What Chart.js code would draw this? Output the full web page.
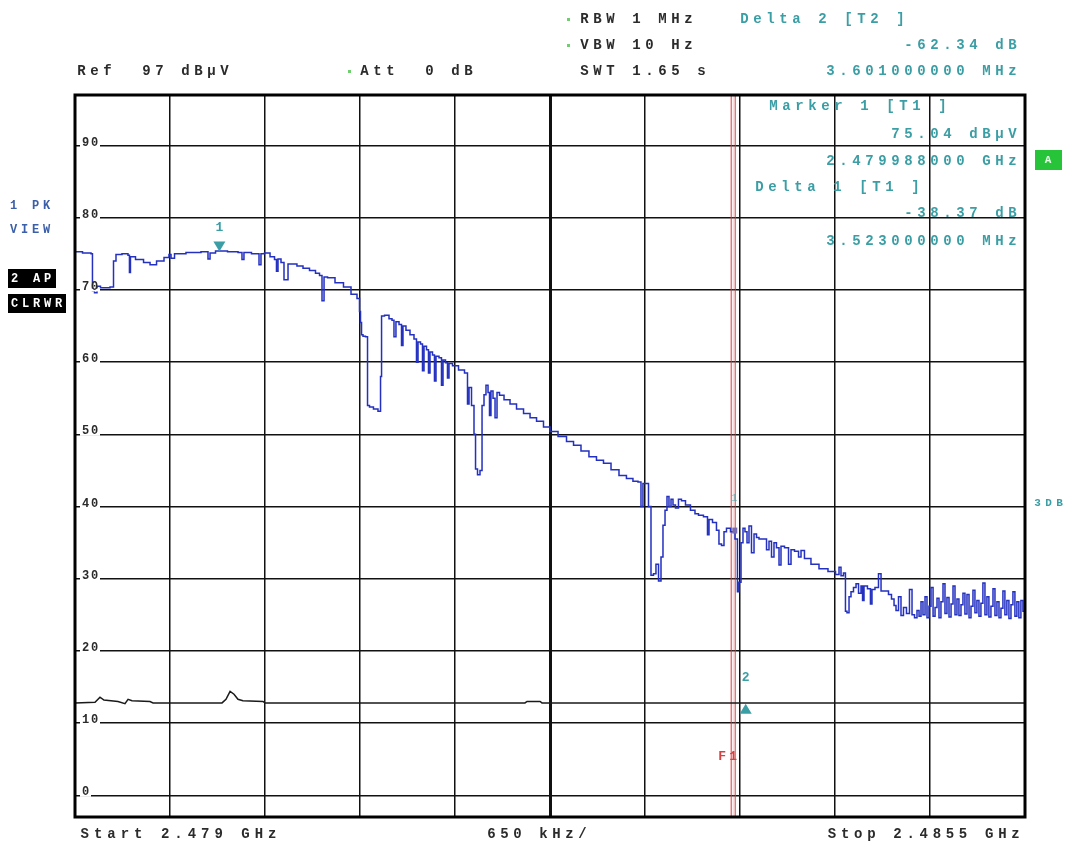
<!DOCTYPE html>
<html lang="en">
<head>
<meta charset="utf-8">
<title>Spectrum plot</title>
<style>
  body { margin: 0; background: #fff; }
  #chartContainer { width: 1068px; height: 847px; }
</style>
</head>
<body>
<div id="chartContainer"><canvas id="myChart" width="1068" height="847"></canvas></div>
<script src="https://cdn.jsdelivr.net/npm/chart.js@4.4.0/dist/chart.umd.min.js"></script>
<script>
// sweep settings
var startMHz = 2479.0, stopMHz = 2485.5, divMHz = 0.65;
var refLevel = 97, bottomLevel = -3;
var yLabels = [0, 10, 20, 30, 40, 50, 60, 70, 80, 90];

// trace 1 (PK, view) - offsets from start in MHz, levels in dBuV
var pkOffsets = [
  0.000, 0.103, 0.116, 0.123, 0.144, 0.157, 0.192, 0.226, 0.253, 0.274,
  0.287, 0.356, 0.369, 0.376, 0.383, 0.445, 0.493, 0.534, 0.582, 0.636,
  0.650, 0.664, 0.698, 0.821, 0.903, 0.917, 0.931, 0.992, 1.095, 1.136,
  1.149, 1.163, 1.252, 1.266, 1.279, 1.314, 1.355, 1.375, 1.382, 1.396,
  1.423, 1.437, 1.451, 1.464, 1.498, 1.539, 1.581, 1.628, 1.663, 1.683,
  1.697, 1.711, 1.745, 1.813, 1.861, 1.916, 1.943, 1.950, 1.957, 1.964,
  1.977, 1.998, 2.005, 2.025, 2.059, 2.087, 2.094, 2.101, 2.135, 2.162,
  2.176, 2.189, 2.203, 2.231, 2.237, 2.251, 2.278, 2.306, 2.333, 2.340,
  2.354, 2.374, 2.381, 2.395, 2.415, 2.422, 2.436, 2.456, 2.463, 2.477,
  2.504, 2.511, 2.525, 2.545, 2.552, 2.566, 2.600, 2.648, 2.682, 2.689,
  2.703, 2.723, 2.737, 2.744, 2.764, 2.778, 2.792, 2.805, 2.819, 2.833,
  2.839, 2.853, 2.867, 2.881, 2.894, 2.915, 2.956, 2.997, 3.045, 3.093,
  3.134, 3.182, 3.229, 3.271, 3.339, 3.387, 3.435, 3.489, 3.544, 3.592,
  3.640, 3.695, 3.749, 3.797, 3.838, 3.866, 3.879, 3.893, 3.914, 3.934,
  3.948, 3.968, 3.982, 4.003, 4.016, 4.030, 4.044, 4.057, 4.071, 4.085,
  4.098, 4.119, 4.139, 4.160, 4.194, 4.228, 4.256, 4.276, 4.324, 4.331,
  4.345, 4.379, 4.399, 4.413, 4.434, 4.447, 4.468, 4.502, 4.529, 4.536,
  4.550, 4.564, 4.577, 4.591, 4.605, 4.618, 4.639, 4.653, 4.673, 4.687,
  4.721, 4.742, 4.755, 4.776, 4.789, 4.810, 4.824, 4.837, 4.872, 4.892,
  4.906, 4.940, 4.961, 4.974, 5.008, 5.063, 5.118, 5.186, 5.221, 5.234,
  5.248, 5.268, 5.275, 5.289, 5.303, 5.316, 5.337, 5.351, 5.371, 5.385,
  5.392, 5.405, 5.439, 5.446, 5.460, 5.487, 5.508, 5.522, 5.556, 5.576,
  5.597, 5.611, 5.624, 5.645, 5.658, 5.679, 5.699, 5.720, 5.734, 5.754,
  5.768, 5.782, 5.795, 5.809, 5.823, 5.836, 5.850, 5.864, 5.878, 5.891,
  5.905, 5.918, 5.932, 5.946, 5.959, 5.973, 5.987, 6.001, 6.014, 6.028,
  6.041, 6.055, 6.069, 6.082, 6.096, 6.110, 6.124, 6.137, 6.151, 6.164,
  6.178, 6.192, 6.205, 6.219, 6.233, 6.246, 6.260, 6.274, 6.288, 6.301,
  6.315, 6.329, 6.342, 6.356, 6.369, 6.383, 6.397, 6.411, 6.424, 6.438,
  6.451, 6.465, 6.479, 6.493
];
var pkLevels = [
  75.3, 75.1, 75.0, 69.9, 69.6, 70.5, 70.3, 70.3, 70.4, 74.0,
  74.9, 75.0, 74.8, 72.4, 74.6, 74.2, 73.8, 73.5, 74.0, 74.5,
  74.9, 74.4, 75.0, 75.2, 75.3, 74.3, 75.1, 75.4, 75.3, 75.2,
  74.2, 75.2, 75.0, 73.5, 75.0, 75.1, 74.6, 74.2, 72.6, 74.3,
  73.8, 71.4, 71.4, 73.6, 73.6, 73.3, 73.0, 72.7, 72.3, 72.0,
  68.5, 71.8, 71.7, 71.0, 70.4, 69.4, 68.8, 67.0, 65.5, 63.8,
  63.6, 63.5, 54.0, 53.8, 53.5, 53.2, 58.0, 66.4, 66.5, 66.0,
  65.8, 63.5, 65.6, 65.2, 62.3, 65.0, 64.4, 63.8, 63.2, 60.0,
  62.8, 62.5, 58.8, 62.2, 61.7, 58.5, 61.4, 61.0, 57.4, 60.8,
  60.6, 56.8, 60.3, 59.9, 57.8, 59.8, 59.5, 58.9, 58.5, 54.2,
  56.5, 54.0, 50.0, 45.2, 44.4, 45.0, 54.0, 55.5, 56.8, 55.8,
  52.6, 56.0, 55.0, 52.3, 55.8, 55.4, 54.8, 54.2, 53.5, 52.9,
  52.3, 51.8, 51.0, 50.4, 49.7, 49.0, 48.5, 47.7, 46.9, 46.4,
  46.0, 45.1, 44.3, 43.9, 43.5, 43.4, 40.0, 43.2, 43.2, 40.0,
  30.5, 30.7, 32.0, 29.7, 33.0, 37.4, 39.5, 41.4, 40.0, 41.0,
  40.2, 39.8, 41.0, 40.8, 40.2, 39.5, 39.0, 38.8, 38.6, 36.1,
  38.2, 37.8, 36.7, 34.8, 34.6, 36.5, 37.0, 36.5, 35.5, 28.2,
  29.5, 35.0, 37.0, 36.5, 35.0, 37.3, 33.6, 36.2, 35.7, 35.5,
  35.5, 34.0, 35.2, 33.0, 35.0, 34.3, 31.9, 34.5, 34.3, 32.0,
  34.0, 33.8, 33.0, 33.9, 32.8, 32.0, 31.4, 31.0, 30.6, 31.6,
  30.4, 30.8, 25.5, 25.3, 27.5, 28.2, 28.8, 29.3, 28.0, 29.0,
  27.0, 29.0, 28.6, 26.5, 28.5, 28.8, 30.7, 28.3, 28.3, 27.8,
  27.2, 26.3, 25.6, 27.5, 24.9, 26.0, 25.2, 28.5, 25.0, 24.6,
  25.6, 24.8, 26.8, 25.0, 27.5, 24.6, 26.2, 28.8, 24.8, 26.0,
  27.3, 24.6, 26.8, 29.3, 25.2, 27.4, 24.7, 26.5, 29.0, 25.0,
  27.2, 24.9, 26.4, 28.0, 25.1, 27.8, 24.6, 26.2, 28.4, 25.3,
  27.0, 24.8, 26.6, 29.4, 25.0, 27.5, 24.7, 26.2, 28.6, 24.9,
  26.8, 24.6, 25.9, 28.3, 25.0, 27.0, 24.5, 26.4, 28.2, 24.8,
  26.8, 24.6, 27.0, 25.5
];

// trace 2 (AP, clear write)
var apOffsets = [0.000, 0.137, 0.171, 0.198, 0.294, 0.342, 0.363, 0.390, 0.513, 0.534,
  1.006, 1.033, 1.061, 1.088, 1.115, 1.149, 1.286, 1.300, 3.079, 3.093, 3.182, 3.195, 6.500];
var apLevels = [12.8, 12.9, 13.6, 13.2, 13.0, 12.7, 13.3, 13.1, 13.0, 12.8,
  12.8, 13.3, 14.4, 14.0, 13.3, 13.1, 13.0, 12.8, 12.8, 13.0, 13.0, 12.8, 12.8];

// markers
var markerFreq = [2479.988, 2483.589];
var markerLevel = [75.04, 12.70];
var deltaOneFreq = 2483.511, deltaOneLevel = 36.67;
var f1Freq = 2483.5;

var xGrid = [];
for (var k = 0; k <= 10; k++) xGrid.push(startMHz + k * divMHz);

var teal = '#3a9ea4';
var dark = '#2b2b2b';
var fnt = '"Liberation Mono", "Courier New", monospace';

function mono(c, text, x, y, pitch, align) {
    if (align === 'right') x -= text.length * pitch;
    c.textAlign = 'center';
    for (var i = 0; i < text.length; i++) {
        c.fillText(text[i], x + i * pitch + pitch / 2, y);
    }
}

var analyzerPlugin = {
    id: 'analyzer',
    beforeDatasetsDraw: function (chart) {
        var c = chart.ctx, a = chart.chartArea, xs = chart.scales.x;
        // F1 line
        var fx = xs.getPixelForValue(f1Freq);
        c.save();
        c.strokeStyle = '#d83a3a';
        c.lineWidth = 1;
        c.beginPath();
        c.moveTo(fx - 1.5, a.top); c.lineTo(fx - 1.5, a.bottom);
        c.moveTo(fx + 2.5, a.top); c.lineTo(fx + 2.5, a.bottom);
        c.stroke();
        c.strokeStyle = 'rgba(230,120,120,0.35)';
        c.beginPath(); c.moveTo(fx + 0.5, a.top); c.lineTo(fx + 0.5, a.bottom); c.stroke();
        c.restore();
    },
    afterDraw: function (chart) {
        var c = chart.ctx, a = chart.chartArea, xs = chart.scales.x, ys = chart.scales.y;
        c.save();
        // frame
        c.strokeStyle = '#000';
        c.lineWidth = 3;
        c.strokeRect(a.left, a.top, a.right - a.left, a.bottom - a.top);

        // level labels on the grid lines
        c.font = 'bold 12px ' + fnt;
        c.textBaseline = 'bottom';
        yLabels.forEach(function (v) {
            var py = ys.getPixelForValue(v);
            c.fillStyle = '#fff';
            c.fillRect(a.left + 5, py - 1.5, v === 0 ? 11 : 20, 3);
            c.fillStyle = dark;
            mono(c, String(v), a.left + 6, py + 3, 9);
        });

        // header
        c.textBaseline = 'middle';
        c.font = 'bold 14px ' + fnt;
        c.fillStyle = dark;
        mono(c, 'Ref  97 dB\u00b5V', 75, 71, 13);
        mono(c, 'Att  0 dB', 358, 71, 13);
        mono(c, 'RBW 1 MHz', 578, 19, 13);
        mono(c, 'VBW 10 Hz', 578, 45, 13);
        mono(c, 'SWT 1.65 s', 578, 71, 13);
        c.fillStyle = '#6fcf6f';
        [[568, 19], [568, 45], [349, 71]].forEach(function (p) {
            c.fillRect(p[0] - 1, p[1] - 1, 3, 3);
        });
        c.fillStyle = teal;
        mono(c, 'Delta 2 [T2 ]', 738, 19, 13);
        mono(c, '-62.34 dB', 1019, 45, 13, 'right');
        mono(c, '3.601000000 MHz', 1019, 71, 13, 'right');
        mono(c, 'Marker 1 [T1 ]', 767, 106, 13);
        mono(c, '75.04 dB\u00b5V', 1019, 134, 13, 'right');
        mono(c, '2.479988000 GHz', 1019, 161, 13, 'right');
        mono(c, 'Delta 1 [T1 ]', 753, 187, 13);
        mono(c, '-38.37 dB', 1019, 213, 13, 'right');
        mono(c, '3.523000000 MHz', 1019, 241, 13, 'right');

        // left side trace info
        c.font = 'bold 12px ' + fnt;
        c.fillStyle = '#3b5fa8';
        mono(c, '1 PK', 8, 206, 11);
        mono(c, 'VIEW', 8, 230, 11);
        c.fillStyle = '#000';
        c.fillRect(8, 269, 48, 19);
        c.fillRect(8, 294, 58, 19);
        c.fillStyle = '#fff';
        mono(c, '2 AP', 9, 279, 11);
        mono(c, 'CLRWR', 9, 304, 11);

        // right side
        c.fillStyle = '#27c43a';
        c.fillRect(1035, 150, 27, 20);
        c.fillStyle = '#e8ffe8';
        c.font = 'bold 11px ' + fnt;
        mono(c, 'A', 1043, 160, 10);
        c.fillStyle = teal;
        mono(c, '3DB', 1032, 503, 11);

        // bottom
        c.font = 'bold 14px ' + fnt;
        c.fillStyle = dark;
        mono(c, 'Start 2.479 GHz', 78, 834, 13.4);
        mono(c, '650 kHz/', 485, 834, 13);
        mono(c, 'Stop 2.4855 GHz', 1022, 834, 13.1, 'right');

        // F1 label
        c.font = 'bold 13px ' + fnt;
        c.fillStyle = '#d84040';
        mono(c, 'F1', xs.getPixelForValue(f1Freq) - 16, 757, 11);

        // markers
        c.fillStyle = teal;
        var m1x = xs.getPixelForValue(markerFreq[0]), m1y = ys.getPixelForValue(markerLevel[0]);
        c.beginPath();
        c.moveTo(m1x, m1y - 2); c.lineTo(m1x - 6, m1y - 12); c.lineTo(m1x + 6, m1y - 12); c.closePath();
        c.fill();
        mono(c, '1', m1x - 5, m1y - 26, 10);
        var m2x = xs.getPixelForValue(markerFreq[1]), m2y = ys.getPixelForValue(markerLevel[1]);
        c.beginPath();
        c.moveTo(m2x, m2y); c.lineTo(m2x - 6, m2y + 10); c.lineTo(m2x + 6, m2y + 10); c.closePath();
        c.fill();
        mono(c, '2', m2x - 5, m2y - 26, 10);
        var d1x = xs.getPixelForValue(deltaOneFreq), d1y = ys.getPixelForValue(deltaOneLevel);
        c.fillStyle = 'rgba(58,158,164,0.6)';
        c.font = '11px ' + fnt;
        mono(c, '1', d1x - 5, d1y - 32, 10);
        c.fillStyle = '#7a6cb0';
        c.fillRect(d1x - 2, d1y - 3, 5, 6);
        c.restore();
    }
};

var ctx = document.getElementById('myChart');
var chart = new Chart(ctx, {
    type: 'line',
    data: {
        datasets: [{
            label: '1 PK VIEW',
            data: pkOffsets.map(function (o, i) { return {x: startMHz + o, y: pkLevels[i]}; }),
            borderColor: '#2330c0',
            borderWidth: 1.5,
            pointRadius: 0,
            stepped: 'middle'
        }, {
            label: '2 AP CLRWR',
            data: apOffsets.map(function (o, i) { return {x: startMHz + o, y: apLevels[i]}; }),
            borderColor: '#1a1a1a',
            borderWidth: 1.5,
            pointRadius: 0,
            tension: 0
        }]
    },
    options: {
        responsive: false,
        animation: false,
        layout: {padding: {left: 75, top: 95, right: 43, bottom: 30}},
        plugins: {legend: {display: false}, tooltip: {enabled: false}},
        scales: {
            x: {
                type: 'linear', min: startMHz, max: stopMHz,
                afterBuildTicks: function (s) { s.ticks = xGrid.map(function (v) { return {value: v}; }); },
                ticks: {display: false},
                border: {display: false},
                grid: {
                    color: '#111', drawTicks: false,
                    lineWidth: function (g) { return g.index === 5 ? 3 : 1.5; }
                }
            },
            y: {
                min: bottomLevel, max: refLevel,
                afterBuildTicks: function (s) { s.ticks = yLabels.map(function (v) { return {value: v}; }); },
                ticks: {display: false},
                border: {display: false},
                grid: {color: '#111', lineWidth: 1.5, drawTicks: false}
            }
        }
    },
    plugins: [analyzerPlugin]
});
</script>
</body>
</html>
